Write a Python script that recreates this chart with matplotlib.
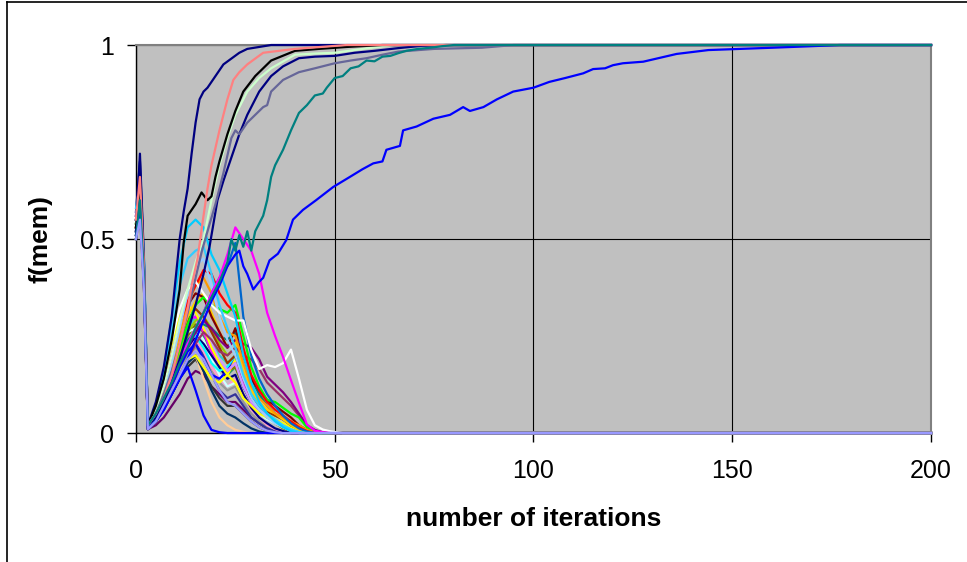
import numpy as np
import matplotlib.pyplot as plt
from matplotlib.lines import Line2D

plt.rcParams['font.family'] = ['Liberation Sans', 'DejaVu Sans']

# ---- runs that settle on f(mem) = 1 ----
navy_it = [0, 1, 2, 3, 5, 7, 9, 10, 11, 12, 13, 14, 15, 16, 17, 18, 20, 22, 24, 26, 28, 31, 34, 200]
navy_f = [0.52, 0.72, 0.45, 0.02, 0.08, 0.17, 0.30, 0.40, 0.50, 0.57, 0.63, 0.72, 0.80, 0.86, 0.88, 0.89,
          0.92, 0.95, 0.965, 0.98, 0.99, 0.995, 1.0, 1.0]

salmon_it = [0, 1, 2, 3, 5, 7, 9, 11, 13, 14, 15.5, 17, 18, 19, 21, 23, 24.5, 26, 28, 32, 40, 53, 200]
salmon_f = [0.55, 0.66, 0.43, 0.02, 0.05, 0.09, 0.15, 0.23, 0.32, 0.38, 0.45, 0.56, 0.63, 0.69, 0.78, 0.86,
            0.91, 0.93, 0.95, 0.98, 0.99, 1.0, 1.0]

black_it = [0, 1, 2, 3, 5, 7, 9, 11, 12, 13, 15, 16.5, 18, 19, 20, 21, 23, 25, 27, 30, 34, 40, 46, 53, 62, 200]
black_f = [0.53, 0.65, 0.42, 0.02, 0.07, 0.14, 0.24, 0.37, 0.49, 0.56, 0.59, 0.62, 0.60, 0.61, 0.66, 0.70,
           0.77, 0.83, 0.88, 0.92, 0.96, 0.985, 0.99, 0.995, 1.0, 1.0]

mint_it = [0, 1, 2, 3, 5, 7, 9, 11, 13, 15, 17, 19, 21, 23, 25, 28, 31, 34, 40, 45, 50, 57, 65, 200]
mint_f = [0.54, 0.63, 0.42, 0.02, 0.06, 0.12, 0.20, 0.29, 0.37, 0.44, 0.50, 0.60, 0.69, 0.76, 0.82, 0.88,
          0.915, 0.94, 0.975, 0.978, 0.98, 0.99, 1.0, 1.0]

navy2_it = [0, 1, 2, 3, 5, 7, 9, 11, 13, 15, 17, 18.5, 20.5, 22, 24, 26, 28, 31, 34, 37, 41, 45, 50, 55,
            60, 66, 72, 78, 200]
navy2_f = [0.51, 0.6, 0.4, 0.02, 0.04, 0.08, 0.13, 0.19, 0.26, 0.33, 0.41, 0.48, 0.60, 0.65, 0.71, 0.77,
           0.82, 0.88, 0.92, 0.945, 0.966, 0.97, 0.972, 0.98, 0.985, 0.992, 0.998, 1.0, 1.0]

slate_it = [0, 1, 2, 3, 5, 7, 9, 11, 13, 15, 16.6, 18, 20, 22, 24, 25, 26, 28, 30, 32, 33, 34, 37, 41, 45,
            50, 54, 58, 62, 66, 75, 87, 95, 200]
slate_f = [0.5, 0.58, 0.39, 0.02, 0.05, 0.10, 0.16, 0.23, 0.31, 0.40, 0.47, 0.52, 0.59, 0.67, 0.76, 0.78,
           0.77, 0.80, 0.82, 0.84, 0.845, 0.88, 0.91, 0.93, 0.94, 0.953, 0.96, 0.966, 0.975, 0.983, 0.99,
           0.993, 1.0, 1.0]

teal_it = [0, 1, 2, 3, 5, 7, 9, 11, 13, 15, 17, 19, 21, 23, 24, 25, 26, 27, 28, 29, 30, 31, 32, 33, 34,
           35, 37, 39, 41, 43, 45, 47, 48, 50, 52, 54, 56, 58, 60, 62, 64, 66, 68, 71, 74, 77, 80, 200]
teal_f = [0.5, 0.6, 0.4, 0.02, 0.05, 0.09, 0.13, 0.18, 0.22, 0.27, 0.31, 0.35, 0.39, 0.44, 0.50, 0.47,
          0.51, 0.48, 0.52, 0.47, 0.52, 0.54, 0.56, 0.60, 0.66, 0.69, 0.73, 0.78, 0.825, 0.845, 0.87,
          0.875, 0.89, 0.915, 0.92, 0.94, 0.945, 0.96, 0.958, 0.97, 0.972, 0.979, 0.985, 0.99, 0.993,
          0.997, 1.0, 1.0]

blue_it = [0, 1, 2, 3, 5, 7, 9, 11, 13, 15, 17, 19, 21, 23, 25, 26, 27, 28, 29.5, 31, 32, 33.6, 35.7,
           37.8, 39.5, 42, 45.3, 49.6, 53.8, 57, 59.7, 62, 63, 66.4, 67.2, 70.6, 74.8, 79, 82.3, 84,
           87.4, 90.8, 94.9, 100, 104, 108, 112.5, 115, 118, 120, 122.5, 127.6, 136, 144, 152, 160,
           170, 177, 200]
blue_f = [0.5, 0.58, 0.38, 0.01, 0.03, 0.06, 0.10, 0.14, 0.19, 0.24, 0.29, 0.34, 0.38, 0.43, 0.46, 0.47,
          0.43, 0.41, 0.37, 0.39, 0.40, 0.445, 0.462, 0.497, 0.55, 0.575, 0.60, 0.634, 0.66, 0.68,
          0.695, 0.70, 0.73, 0.74, 0.78, 0.79, 0.81, 0.82, 0.84, 0.83, 0.84, 0.86, 0.88, 0.89, 0.905,
          0.915, 0.927, 0.938, 0.94, 0.948, 0.953, 0.957, 0.977, 0.987, 0.99, 0.993, 0.997, 1.0, 1.0]

# ---- runs that die out (shared iteration grid) ----
bump_it = [0, 1, 2, 3, 5, 7, 9, 11, 13, 15, 17, 19, 21, 23, 25, 27, 29, 31, 33, 35, 37, 39, 41, 43,
           45, 47, 49, 52, 200]

dkpurple_f = [0.51, 0.57, 0.39, 0.01, 0.02, 0.04, 0.07, 0.10, 0.14, 0.16, 0.15, 0.12, 0.10, 0.08, 0.08,
              0.06, 0.04, 0.025, 0.012, 0.005, 0.002, 0, 0, 0, 0, 0, 0, 0, 0]
dkgray_f = [0.5, 0.56, 0.38, 0.01, 0.03, 0.06, 0.10, 0.14, 0.17, 0.19, 0.16, 0.12, 0.09, 0.07, 0.07,
            0.05, 0.03, 0.015, 0.006, 0.002, 0, 0, 0, 0, 0, 0, 0, 0, 0]
tan_f = [0.5, 0.56, 0.38, 0.01, 0.03, 0.06, 0.10, 0.15, 0.19, 0.20, 0.14, 0.08, 0.04, 0.02, 0.008,
         0.003, 0, 0, 0, 0, 0, 0, 0, 0, 0, 0, 0, 0, 0]
dkteal_f = [0.51, 0.57, 0.39, 0.01, 0.03, 0.06, 0.10, 0.14, 0.18, 0.20, 0.16, 0.11, 0.07, 0.05, 0.04,
            0.025, 0.012, 0.004, 0, 0, 0, 0, 0, 0, 0, 0, 0, 0, 0]
gray_f = [0.52, 0.59, 0.4, 0.01, 0.04, 0.08, 0.12, 0.17, 0.20, 0.22, 0.20, 0.16, 0.13, 0.11, 0.12,
          0.08, 0.05, 0.03, 0.015, 0.006, 0.002, 0, 0, 0, 0, 0, 0, 0, 0]
indigo_f = [0.55, 0.62, 0.42, 0.02, 0.04, 0.08, 0.13, 0.18, 0.22, 0.24, 0.20, 0.15, 0.11, 0.09, 0.10,
            0.07, 0.04, 0.025, 0.012, 0.005, 0, 0, 0, 0, 0, 0, 0, 0, 0]
rose_f = [0.54, 0.61, 0.41, 0.02, 0.04, 0.08, 0.13, 0.18, 0.22, 0.24, 0.21, 0.17, 0.14, 0.12, 0.14,
          0.10, 0.06, 0.04, 0.02, 0.01, 0.004, 0, 0, 0, 0, 0, 0, 0, 0]
seagreen_f = [0.52, 0.58, 0.4, 0.01, 0.04, 0.08, 0.13, 0.19, 0.23, 0.26, 0.25, 0.21, 0.17, 0.15, 0.17,
              0.12, 0.08, 0.06, 0.045, 0.03, 0.018, 0.008, 0.003, 0, 0, 0, 0, 0, 0]
olive_f = [0.53, 0.6, 0.41, 0.02, 0.04, 0.09, 0.15, 0.20, 0.25, 0.28, 0.26, 0.22, 0.18, 0.16, 0.17,
           0.12, 0.08, 0.06, 0.04, 0.025, 0.012, 0.004, 0, 0, 0, 0, 0, 0, 0]
turq_f = [0.55, 0.6, 0.42, 0.02, 0.05, 0.10, 0.16, 0.22, 0.26, 0.27, 0.24, 0.19, 0.15, 0.12, 0.13,
          0.09, 0.07, 0.05, 0.035, 0.025, 0.015, 0.006, 0, 0, 0, 0, 0, 0, 0]
navyb_f = [0.57, 0.7, 0.44, 0.02, 0.04, 0.08, 0.13, 0.18, 0.22, 0.25, 0.23, 0.20, 0.17, 0.14, 0.15,
           0.10, 0.065, 0.04, 0.025, 0.012, 0.005, 0, 0, 0, 0, 0, 0, 0, 0]
earlyblue_f = [0.52, 0.58, 0.4, 0.01, 0.03, 0.06, 0.10, 0.14, 0.17, 0.11, 0.045, 0.008, 0.002, 0, 0,
               0, 0, 0, 0, 0, 0, 0, 0, 0, 0, 0, 0, 0, 0]
cyan_f = [0.55, 0.64, 0.43, 0.02, 0.05, 0.10, 0.16, 0.21, 0.24, 0.25, 0.22, 0.18, 0.16, 0.17, 0.20,
          0.15, 0.10, 0.07, 0.05, 0.035, 0.02, 0.01, 0.004, 0, 0, 0, 0, 0, 0]
blueb_f = [0.53, 0.62, 0.41, 0.01, 0.03, 0.07, 0.12, 0.17, 0.21, 0.23, 0.19, 0.15, 0.14, 0.16, 0.19,
           0.12, 0.08, 0.06, 0.04, 0.03, 0.02, 0.01, 0.004, 0, 0, 0, 0, 0, 0]
yellow2_f = [0.5, 0.57, 0.38, 0.01, 0.03, 0.07, 0.11, 0.15, 0.19, 0.20, 0.17, 0.14, 0.13, 0.15, 0.19,
             0.14, 0.10, 0.07, 0.05, 0.035, 0.025, 0.015, 0.006, 0.002, 0, 0, 0, 0, 0]
aqua_f = [0.54, 0.61, 0.42, 0.02, 0.05, 0.10, 0.16, 0.22, 0.27, 0.30, 0.28, 0.23, 0.20, 0.18, 0.20,
          0.13, 0.09, 0.065, 0.045, 0.03, 0.018, 0.008, 0.002, 0, 0, 0, 0, 0, 0]
magb_f = [0.56, 0.64, 0.43, 0.02, 0.06, 0.12, 0.19, 0.25, 0.29, 0.30, 0.26, 0.21, 0.18, 0.16, 0.18,
          0.13, 0.08, 0.06, 0.045, 0.03, 0.018, 0.008, 0.002, 0, 0, 0, 0, 0, 0]
lavender_f = [0.53, 0.6, 0.4, 0.02, 0.05, 0.11, 0.18, 0.24, 0.29, 0.31, 0.28, 0.23, 0.19, 0.16, 0.18,
              0.12, 0.08, 0.06, 0.045, 0.03, 0.02, 0.01, 0.003, 0, 0, 0, 0, 0, 0]
teal2_f = [0.55, 0.62, 0.42, 0.02, 0.05, 0.10, 0.15, 0.20, 0.24, 0.26, 0.28, 0.27, 0.25, 0.24, 0.26,
           0.20, 0.14, 0.10, 0.07, 0.05, 0.035, 0.02, 0.01, 0.004, 0, 0, 0, 0, 0]
lime_f = [0.52, 0.58, 0.4, 0.01, 0.04, 0.09, 0.15, 0.21, 0.26, 0.29, 0.30, 0.27, 0.23, 0.20, 0.22,
          0.15, 0.10, 0.075, 0.06, 0.045, 0.035, 0.02, 0.01, 0.003, 0, 0, 0, 0, 0]
brown_f = [0.54, 0.6, 0.4, 0.01, 0.04, 0.10, 0.17, 0.24, 0.29, 0.32, 0.30, 0.26, 0.22, 0.18, 0.20,
           0.14, 0.09, 0.07, 0.055, 0.045, 0.035, 0.02, 0.008, 0.002, 0, 0, 0, 0, 0]
yellow_f = [0.53, 0.6, 0.42, 0.02, 0.07, 0.15, 0.23, 0.30, 0.33, 0.31, 0.27, 0.22, 0.18, 0.15, 0.13,
            0.09, 0.07, 0.05, 0.04, 0.03, 0.02, 0.012, 0.005, 0, 0, 0, 0, 0, 0]
gold_f = [0.53, 0.6, 0.41, 0.02, 0.05, 0.10, 0.17, 0.24, 0.30, 0.34, 0.36, 0.31, 0.26, 0.22, 0.24,
          0.16, 0.11, 0.08, 0.06, 0.05, 0.035, 0.02, 0.008, 0.002, 0, 0, 0, 0, 0]
maroon_f = [0.53, 0.61, 0.41, 0.02, 0.05, 0.11, 0.19, 0.27, 0.33, 0.36, 0.35, 0.30, 0.26, 0.22, 0.27,
            0.20, 0.14, 0.11, 0.085, 0.07, 0.055, 0.04, 0.02, 0.008, 0.002, 0, 0, 0, 0]
plum_f = [0.52, 0.6, 0.4, 0.01, 0.03, 0.07, 0.11, 0.15, 0.19, 0.23, 0.26, 0.24, 0.21, 0.20, 0.22,
          0.20, 0.19, 0.165, 0.13, 0.11, 0.09, 0.07, 0.045, 0.02, 0.006, 0.001, 0, 0, 0]
purple_f = [0.5, 0.58, 0.38, 0.01, 0.04, 0.08, 0.13, 0.18, 0.22, 0.26, 0.29, 0.27, 0.24, 0.22, 0.24,
            0.23, 0.22, 0.19, 0.145, 0.125, 0.105, 0.08, 0.05, 0.02, 0.008, 0.002, 0, 0, 0]
green_f = [0.54, 0.62, 0.41, 0.02, 0.05, 0.10, 0.16, 0.22, 0.28, 0.33, 0.35, 0.33, 0.32, 0.31, 0.33,
           0.25, 0.17, 0.12, 0.085, 0.08, 0.065, 0.05, 0.04, 0.015, 0.004, 0, 0, 0, 0]
orange_f = [0.55, 0.63, 0.42, 0.02, 0.05, 0.11, 0.18, 0.26, 0.33, 0.38, 0.40, 0.36, 0.30, 0.26, 0.25,
            0.18, 0.12, 0.09, 0.07, 0.05, 0.04, 0.03, 0.02, 0.008, 0.002, 0, 0, 0, 0]
red_f = [0.56, 0.66, 0.44, 0.02, 0.06, 0.12, 0.20, 0.28, 0.34, 0.38, 0.42, 0.41, 0.36, 0.33, 0.31,
         0.22, 0.15, 0.11, 0.08, 0.06, 0.045, 0.03, 0.015, 0.005, 0, 0, 0, 0, 0]
paleblue_f = [0.56, 0.63, 0.44, 0.02, 0.05, 0.10, 0.18, 0.27, 0.36, 0.43, 0.45, 0.38, 0.30, 0.24, 0.20,
              0.14, 0.09, 0.06, 0.04, 0.025, 0.015, 0.006, 0, 0, 0, 0, 0, 0, 0]
steel_f = [0.55, 0.6, 0.4, 0.01, 0.04, 0.08, 0.13, 0.18, 0.23, 0.27, 0.31, 0.36, 0.40, 0.43, 0.49,
           0.30, 0.20, 0.14, 0.10, 0.07, 0.045, 0.025, 0.012, 0.004, 0, 0, 0, 0, 0]
white_f = [0.52, 0.6, 0.4, 0.02, 0.07, 0.15, 0.24, 0.32, 0.37, 0.39, 0.36, 0.33, 0.31, 0.30, 0.29,
           0.29, 0.215, 0.165, 0.175, 0.17, 0.18, 0.215, 0.14, 0.06, 0.02, 0.009, 0.004, 0, 0]
lightsky_f = [0.58, 0.64, 0.46, 0.02, 0.06, 0.14, 0.26, 0.38, 0.45, 0.47, 0.48, 0.41, 0.33, 0.27, 0.22,
              0.15, 0.10, 0.07, 0.05, 0.035, 0.02, 0.01, 0.003, 0, 0, 0, 0, 0, 0]
sky_f = [0.56, 0.62, 0.45, 0.02, 0.07, 0.16, 0.30, 0.44, 0.53, 0.55, 0.53, 0.46, 0.42, 0.36, 0.30,
         0.20, 0.13, 0.08, 0.05, 0.03, 0.015, 0.005, 0, 0, 0, 0, 0, 0, 0]
magenta_f = [0.55, 0.63, 0.42, 0.02, 0.05, 0.09, 0.14, 0.19, 0.23, 0.27, 0.31, 0.36, 0.40, 0.46, 0.53,
             0.50, 0.47, 0.41, 0.31, 0.25, 0.196, 0.136, 0.078, 0.022, 0.006, 0.002, 0, 0, 0]
peri_f = [0.5, 0.55, 0.37, 0.01, 0.03, 0.07, 0.11, 0.15, 0.19, 0.21, 0.19, 0.15, 0.11, 0.08, 0.07,
          0.05, 0.03, 0.015, 0.006, 0.002, 0, 0, 0, 0, 0, 0, 0, 0, 0]

# drawing order: first listed is painted first
bumps = [
    ("#660066", dkpurple_f), ("#333333", dkgray_f), ("#FFCC99", tan_f), ("#003366", dkteal_f),
    ("#969696", gray_f), ("#333399", indigo_f), ("#FF99CC", rose_f), ("#339966", seagreen_f),
    ("#808000", olive_f), ("#CCFFFF", turq_f), ("#000080", navyb_f), ("#0000FF", earlyblue_f),
    ("#00FFFF", cyan_f), ("#0000FF", blueb_f), ("#FFFF00", yellow2_f), ("#33CCCC", aqua_f),
    ("#FF00FF", magb_f), ("#CC99FF", lavender_f), ("#008080", teal2_f), ("#99CC00", lime_f),
    ("#993300", brown_f), ("#FFFF00", yellow_f), ("#FFCC00", gold_f), ("#800000", maroon_f),
    ("#993366", plum_f), ("#800080", purple_f), ("#00FF00", green_f), ("#FF9900", orange_f),
    ("#FF0000", red_f), ("#99CCFF", paleblue_f), ("#0066CC", steel_f), ("#FFFFFF", white_f),
    ("#33CCFF", lightsky_f), ("#00CCFF", sky_f), ("#FF00FF", magenta_f),
]

settling = [
    ("#000080", navy_it, navy_f), ("#CCFFCC", mint_it, mint_f), ("#000000", black_it, black_f),
    ("#000080", navy2_it, navy2_f), ("#666699", slate_it, slate_f), ("#FF8080", salmon_it, salmon_f),
    ("#0000FF", blue_it, blue_f), ("#008080", teal_it, teal_f),
]

fig = plt.figure(figsize=(9.67, 5.62), dpi=100)
ax = fig.add_axes([0.1406, 0.2295, 0.8222, 0.6904])
ax.set_facecolor("#C0C0C0")

for col, vals in bumps:
    ax.plot(bump_it, vals, color=col, lw=1.6, clip_on=False, zorder=3)
for col, its, vals in settling:
    ax.plot(its, vals, color=col, lw=1.6, clip_on=False, zorder=4)
ax.plot(bump_it, peri_f, color="#9999FF", lw=1.6, clip_on=False, zorder=5)

ax.set_xlim(0, 200)
ax.set_ylim(0, 1)
ax.set_xticks([0, 50, 100, 150, 200])
ax.set_yticks([0, 0.5, 1])
ax.set_yticklabels(["0", "0.5", "1"])
ax.grid(True, color="black", lw=0.8, zorder=1)
ax.set_axisbelow(True)
ax.tick_params(direction="out", length=6.5, width=1, labelsize=18, color="black")
ax.tick_params(axis="x", pad=12)
ax.tick_params(axis="y", pad=9)

for side in ("left", "bottom"):
    ax.spines[side].set_color("black")
    ax.spines[side].set_linewidth(1)
for side in ("top", "right"):
    ax.spines[side].set_color("#808080")
    ax.spines[side].set_linewidth(1.5)

ax.set_xlabel("number of iterations", fontsize=19, fontweight="bold")
ax.set_ylabel("f(mem)", fontsize=19, fontweight="bold")
ax.xaxis.set_label_coords(0.5, -0.19)
ax.yaxis.set_label_coords(-0.105, 0.5)

# chart frame edges
fig.add_artist(Line2D([0.0075, 1.0], [0.9956, 0.9956], color="black", lw=1.2))
fig.add_artist(Line2D([0.0075, 0.0075], [0.0, 0.9956], color="black", lw=1.2))

fig.savefig("out.png", dpi=100)
